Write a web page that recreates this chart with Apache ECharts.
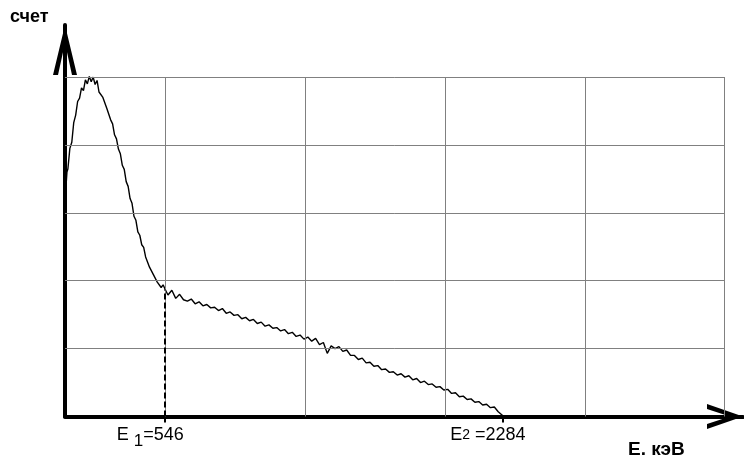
<!DOCTYPE html>
<html>
<head>
<meta charset="utf-8">
<script src="https://cdn.jsdelivr.net/npm/echarts@6/dist/echarts.min.js"></script>
<style>
  html, body { margin: 0; padding: 0; background: #fff; }
  #main { width: 744px; height: 456px; }
</style>
</head>
<body>
<div id="main"></div>
<script>
// энергия, кэВ
const energy = [
  35, 40, 45, 55, 65, 75, 85, 95, 105, 115,
  125, 135, 145, 155, 165, 175, 185, 195, 205, 215,
  225, 235, 245, 255, 265, 275, 285, 295, 305, 315,
  325, 335, 345, 355, 365, 375, 385, 395, 405, 415,
  425, 435, 445, 455, 465, 475, 485, 495, 505, 515,
  525, 535, 546,
  560, 580, 600, 620, 640, 660, 680, 700, 720, 740,
  760, 780, 800, 820, 840, 860, 880, 900, 920, 940,
  960, 980, 1000, 1020, 1040, 1060, 1080, 1100, 1120, 1140,
  1160, 1180, 1200, 1220, 1240, 1260, 1280, 1300, 1320, 1340,
  1360, 1380, 1400, 1420, 1440, 1460, 1480, 1500, 1520, 1540,
  1560, 1580, 1600, 1620, 1640, 1660, 1680, 1700, 1720, 1740,
  1760, 1780, 1800, 1820, 1840, 1860, 1880, 1900, 1920, 1940,
  1960, 1980, 2000, 2020, 2040, 2060, 2080, 2100, 2120, 2140,
  2160, 2180, 2200, 2220, 2240, 2260, 2284
];
// счет
const counts = [
  3380, 3600, 3650, 3950, 4040, 4330, 4440, 4640, 4690, 4840,
  4800, 4960, 4900, 5010, 4930, 5000, 4890, 4950, 4780, 4800,
  4700, 4690, 4540, 4530, 4370, 4310, 4150, 4090, 3940, 3870,
  3700, 3640, 3460, 3390, 3210, 3140, 2950, 2890, 2720, 2670,
  2530, 2490, 2350, 2330, 2200, 2190, 2090, 2080, 1980, 2000,
  1900, 1940, 1870,
  1790, 1860, 1740, 1800, 1720, 1700, 1730, 1660, 1690, 1630,
  1650, 1600, 1610, 1560, 1590, 1520, 1540, 1490, 1500, 1440,
  1460, 1410, 1430, 1370, 1390, 1330, 1350, 1300, 1310, 1260,
  1280, 1220, 1240, 1180, 1200, 1140, 1170, 1110, 1150, 1060,
  1090, 930, 1040, 1000, 1030, 960, 980, 900, 900, 840,
  860, 790, 800, 740, 750, 690, 700, 650, 660, 610,
  630, 580, 600, 540, 560, 500, 520, 470, 480, 430,
  440, 390, 400, 340, 350, 290, 300, 250, 260, 210,
  220, 170, 180, 130, 140, 70, 10
];
// линии сетки
const gridX = [546, 1266, 1986, 2706, 3426];
const gridY = [1000, 2000, 3000, 4000, 5000];
// отметки E1, E2
const markE = [546, 2284];
const markSub = ["1", "2"];

const xMin = 30, xMax = 3520;
const yMax = 5767;

const FONT = '"Liberation Sans", Arial, sans-serif';
const arrowUp = "path://M12,0L24,50L19,50L12,18L5,50L0,50Z";
const arrowRight = "path://M12.5,0L25,36L20,36L12.5,13L5,36L0,36Z";

const gridLines = [];
gridX.forEach(function (x) {
  gridLines.push([{ coord: [x, 0] }, { coord: [x, gridY[gridY.length - 1]] }]);
});
gridY.forEach(function (y) {
  gridLines.push([{ coord: [xMin, y] }, { coord: [gridX[gridX.length - 1], y] }]);
});
// пунктир от E1 до кривой
const e1Count = counts[energy.indexOf(markE[0])];

const chart = echarts.init(document.getElementById("main"));
chart.setOption({
  animation: false,
  backgroundColor: "#fff",
  grid: { left: 65, right: 1, top: 25, bottom: 39.5, outerBoundsMode: "none" },
  xAxis: {
    type: "value",
    min: xMin,
    max: xMax,
    splitLine: { show: false },
    axisLine: {
      onZero: false,
      lineStyle: { color: "#000", width: 4 },
      symbol: ["none", arrowRight],
      symbolSize: [25, 36],
      symbolOffset: [0, -18],
    },
    axisTick: {
      show: true,
      customValues: markE,
      length: 6,
      lineStyle: { color: "#000", width: 2 },
    },
    axisLabel: {
      show: true,
      customValues: markE,
      margin: 10,
      padding: [0, 30, 0, 0],
      color: "#000",
      fontFamily: FONT,
      formatter: function (v) {
        const i = markE.indexOf(v);
        if (i === 0) return "{a|E }{s|" + markSub[i] + "}{a|=" + v + "}";
        return "{a|E}{t|" + markSub[i] + "}{a| =" + v + "}";
      },
      rich: {
        a: { fontSize: 18, lineHeight: 20, verticalAlign: "top", fontFamily: FONT, color: "#000" },
        s: { fontSize: 17, lineHeight: 20, padding: [6, 0, 0, 0], verticalAlign: "top", fontFamily: FONT, color: "#000" },
        t: { fontSize: 14, lineHeight: 20, padding: [2, 0, 0, 0], verticalAlign: "top", fontFamily: FONT, color: "#000" },
      },
    },
  },
  yAxis: {
    type: "value",
    min: 0,
    max: yMax,
    splitLine: { show: false },
    axisTick: { show: false },
    axisLabel: { show: false },
    axisLine: {
      show: true,
      onZero: false,
      lineStyle: { color: "#000", width: 4 },
      symbol: ["none", arrowUp],
      symbolSize: [24, 50],
      symbolOffset: [0, -25],
    },
  },
  graphic: [
    {
      type: "text",
      left: 10,
      top: 8,
      style: { text: "счет", font: "bold 18px " + FONT, fill: "#000" },
    },
    {
      type: "text",
      left: 628,
      top: 440,
      style: { text: "E. кэВ", font: "bold 19px " + FONT, fill: "#000" },
    },
  ],
  series: [
    {
      type: "line",
      data: [],
      z: 1,
      silent: true,
      markLine: {
        silent: true,
        symbol: ["none", "none"],
        label: { show: false },
        lineStyle: { color: "#808080", width: 1, type: "solid" },
        data: gridLines.concat([
          [
            { coord: [markE[0], 0], lineStyle: { color: "#000", width: 2, type: [6, 3] } },
            { coord: [markE[0], e1Count] },
          ],
        ]),
      },
    },
    {
      type: "line",
      z: 3,
      silent: true,
      showSymbol: false,
      lineStyle: { color: "#000", width: 1.4 },
      data: energy.map(function (e, i) {
        return [e, counts[i]];
      }),
    },
  ],
});
</script>
</body>
</html>
